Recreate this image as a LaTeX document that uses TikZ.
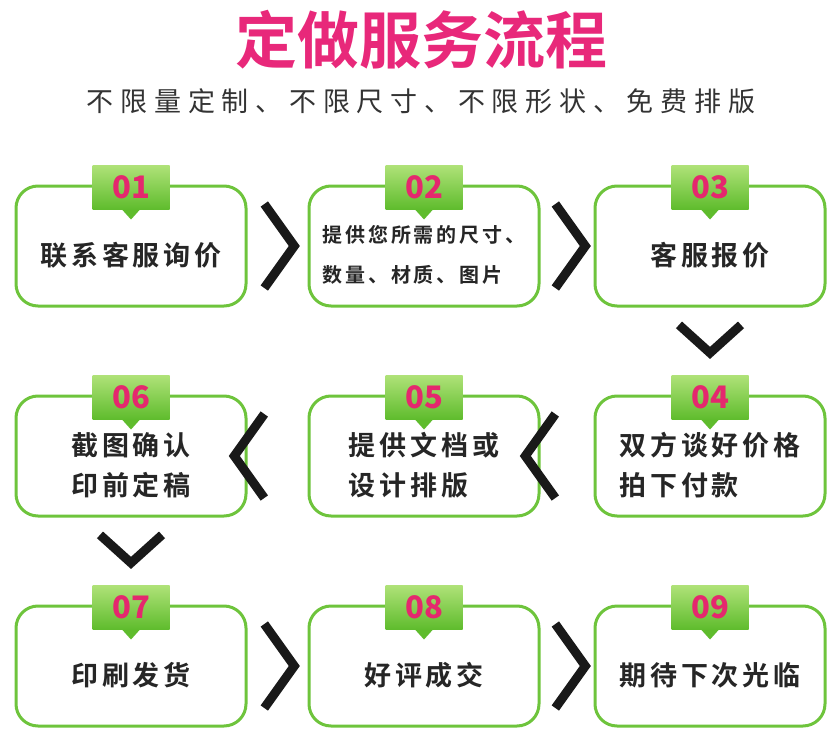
\documentclass[tikz,border=0pt]{standalone}
\usepackage{fontspec}
\setmainfont{Noto Sans CJK SC}
\newfontfamily\cjkbold{Noto Sans CJK SC Bold}
\usetikzlibrary{positioning,calc}
\definecolor{stepgreen}{RGB}{110,196,60}
\definecolor{tabtop}{RGB}{175,226,120}
\definecolor{tabbot}{RGB}{95,188,45}
\definecolor{titlepink}{RGB}{232,40,122}
\definecolor{numpink}{RGB}{228,40,110}
\tikzset{
  stepbox/.style={draw=stepgreen,line width=3pt,rounded corners=22pt,fill=white,
    minimum width=230pt,minimum height=120pt},
  steptext/.style={align=left,text=black!85,
    font=\cjkbold\fontsize{27}{40}\selectfont\addfontfeature{LetterSpace=14}},
  tab/.style={top color=tabtop,bottom color=tabbot,minimum width=77pt,
    minimum height=44pt,inner sep=0pt,font=\bfseries\fontsize{31}{31}\selectfont,text=numpink},
  chev/.style={line width=9pt,miter limit=10,black!90}
}
\newcommand{\flowstep}[4]{%
  \node[stepbox] (s#1) at (#2,#3) {};
  \node[steptext] (l#1) at ($(s#1.center)+(0,9)$) {#4};
  \node[tab,anchor=south] (t#1) at ($(s#1.north)+(0,25)$) {0#1};
  \fill[tabbot] ($(t#1.south)+(-9,0)$) -- ($(t#1.south)+(9,0)$) -- ($(t#1.south)+(0,10)$) -- cycle;
}
\begin{document}
\begin{tikzpicture}[x=1pt,y=-1pt]
\useasboundingbox (0,0) rectangle (839,739);
\node[font=\cjkbold\fontsize{62}{62}\selectfont,text=titlepink] (title) at (421,40) {定做服务流程};
\node[font=\fontsize{27}{27}\selectfont\addfontfeature{LetterSpace=25},text=black!80] (sub) at (421,101) {不限量定制、不限尺寸、不限形状、免费排版};
\flowstep{1}{131}{246}{联系客服询价}
\flowstep{2}{424}{246}{\fontsize{20}{33}\selectfont 提供您所需的尺寸、\\\fontsize{20}{33}\selectfont 数量、材质、图片}
\flowstep{3}{710}{246}{客服报价}
\flowstep{4}{710}{456}{双方谈好价格\\拍下付款}
\flowstep{5}{424}{456}{提供文档或\\设计排版}
\flowstep{6}{131}{456}{截图确认\\印前定稿}
\flowstep{7}{131}{666}{印刷发货}
\flowstep{8}{424}{666}{好评成交}
\flowstep{9}{710}{666}{期待下次光临}
% chevrons
\foreach \a/\b in {1/2,2/3,7/8,8/9}
  \draw[chev] ($(s\a.east)!0.28!(s\b.west)+(0,-42)$) -- ++(30,42) -- ++(-30,42);
\foreach \a/\b in {4/5,5/6}
  \draw[chev] ($(s\a.west)!0.72!(s\b.east)+(0,-42)$) -- ++(-30,42) -- ++(30,42);
\foreach \a/\b in {3/4,6/7}
  \draw[chev] ($(s\a.south)!0.2!(s\b.north)+(-31,0)$) -- ++(31,28) -- ++(31,-28);
\end{tikzpicture}
\end{document}
